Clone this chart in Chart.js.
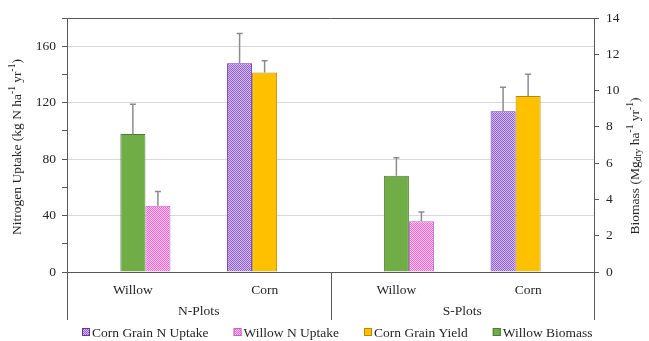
<!DOCTYPE html>
<html>
<head>
<meta charset="utf-8">
<script src="https://cdn.jsdelivr.net/npm/chart.js@4.4.1/dist/chart.umd.min.js"></script>
<style>
html, body { margin: 0; padding: 0; background: #ffffff; }
canvas { display: block; }
</style>
</head>
<body>
<canvas id="uptakeChart" width="649" height="341"></canvas>
<script>

// =========================================
// Data
// =========================================

const categories = ["Willow", "Corn", "Willow", "Corn"];
const plotGroups = ["N-Plots", "S-Plots"];

const cornNUptake = [null, 148, null, 114];
const cornNUptakeErr = [null, 21, null, 17];

const willowNUptake = [47, null, 36, null];
const willowNUptakeErr = [10, null, 6.6, null];

const cornGrainYield = [null, 11.0, null, 9.7];
const cornGrainYieldErr = [null, 0.65, null, 1.2];

const willowBiomass = [7.6, null, 5.3, null];
const willowBiomassErr = [1.65, null, 1.0, null];

const nTicks = [0, 40, 80, 120, 160];
const biomassTicks = [0, 2, 4, 6, 8, 10, 12, 14];


// =========================================
// Styles
// =========================================

const FONT = '"Liberation Serif", "Times New Roman", serif';
const SIZE = 13.5;
const AXIS = "#595959";
const TEXT = "#262626";

function checker(dark, light) {

    const c = document.createElement("canvas");
    c.width = 4;
    c.height = 4;

    const g = c.getContext("2d");
    g.fillStyle = light;
    g.fillRect(0, 0, 4, 4);
    g.fillStyle = dark;

    for (let i = 0; i < 4; i++) {
        for (let j = 0; j < 4; j++) {
            if ((i + j) % 2 === 0) g.fillRect(i, j, 1, 1);
        }
    }

    return g.createPattern(c, "repeat");

}

const purpleFill = checker("#9260cc", "#d3bcf0");
const pinkFill = checker("#ee6acd", "#ffc6ec");


// =========================================
// Rich text (super / subscripts)
// =========================================

function drawRich(ctx, parts, cx, cy, angle) {

    const big = SIZE + "px " + FONT;
    const small = "9.5px " + FONT;

    let width = 0;
    parts.forEach(p => {
        ctx.font = p[1] === 0 ? big : small;
        width += ctx.measureText(p[0]).width;
    });

    ctx.save();
    ctx.translate(cx, cy);
    ctx.rotate(angle);
    ctx.fillStyle = TEXT;
    ctx.textBaseline = "middle";
    ctx.textAlign = "left";

    let x = -width / 2;
    parts.forEach(p => {
        ctx.font = p[1] === 0 ? big : small;
        const dy = p[1] === 1 ? -5 : (p[1] === -1 ? 3 : 0);
        ctx.fillText(p[0], x, dy);
        x += ctx.measureText(p[0]).width;
    });

    ctx.restore();

}


// =========================================
// Extras: error bars, frame, labels, legend
// =========================================

const extrasPlugin = {

    id: "extras",

    afterDatasetsDraw(chart) {

        const ctx = chart.ctx;

        ctx.save();
        ctx.strokeStyle = "#8c8c8c";
        ctx.lineWidth = 1.5;

        chart.data.datasets.forEach((ds, d) => {

            const meta = chart.getDatasetMeta(d);
            const scale = chart.scales[ds.yAxisID];

            ds.data.forEach((v, i) => {

                if (v === null) return;

                const bar = meta.data[i];
                const top = scale.getPixelForValue(v + ds.errors[i]);

                ctx.beginPath();
                ctx.moveTo(bar.x, bar.y);
                ctx.lineTo(bar.x, top);
                ctx.moveTo(bar.x - 3, top);
                ctx.lineTo(bar.x + 3, top);
                ctx.stroke();

            });

        });

        ctx.restore();

    },

    afterDraw(chart) {

        const ctx = chart.ctx;
        const area = chart.chartArea;
        const xs = chart.scales.x;
        const lowY = 320;

        ctx.save();
        ctx.strokeStyle = AXIS;
        ctx.lineWidth = 1;

        // frame lines
        ctx.beginPath();
        ctx.moveTo(area.left, area.top + 0.5);
        ctx.lineTo(area.right, area.top + 0.5);
        ctx.moveTo(Math.round(area.left) + 0.5, area.bottom);
        ctx.lineTo(Math.round(area.left) + 0.5, lowY);
        ctx.moveTo(Math.round(area.right) + 0.5, area.bottom);
        ctx.lineTo(Math.round(area.right) + 0.5, lowY);

        const mid = Math.round((xs.getPixelForValue(1) + xs.getPixelForValue(2)) / 2) + 0.5;
        ctx.moveTo(mid, area.bottom);
        ctx.lineTo(mid, lowY);
        ctx.stroke();

        // group labels
        ctx.fillStyle = TEXT;
        ctx.font = SIZE + "px " + FONT;
        ctx.textAlign = "center";
        ctx.textBaseline = "middle";

        plotGroups.forEach((g, k) => {
            const cx = (xs.getPixelForValue(k * 2) + xs.getPixelForValue(k * 2 + 1)) / 2;
            ctx.fillText(g, cx, 311);
        });

        // axis titles
        drawRich(ctx, [
            ["Nitrogen Uptake (kg N ha", 0], ["-1", 1], [" yr", 0], ["-1", 1], [")", 0]
        ], 17, (area.top + area.bottom) / 2 + 2, -Math.PI / 2);

        drawRich(ctx, [
            ["Biomass (Mg", 0], ["dry", -1], [" ha", 0], ["-1", 1], [" yr", 0], ["-1", 1], [")", 0]
        ], 635, 166, -Math.PI / 2);

        // legend
        let x = 82;
        const ly = 332;

        ctx.textAlign = "left";
        ctx.font = SIZE + "px " + FONT;

        chart.data.datasets.forEach(ds => {

            ctx.fillStyle = ds.backgroundColor;
            ctx.fillRect(x, ly - 4, 8, 8);
            ctx.strokeStyle = ds.borderColor;
            ctx.strokeRect(x + 0.5, ly - 3.5, 7, 7);

            ctx.fillStyle = TEXT;
            ctx.fillText(ds.label, x + 10, ly + 1);

            x += 10 + ctx.measureText(ds.label).width + 25;

        });

        ctx.restore();

    }

};


// =========================================
// Chart
// =========================================

const ctx = document.getElementById("uptakeChart");

new Chart(ctx, {

    type: "bar",

    data: {

        labels: categories,

        datasets: [

            {
                label: "Corn Grain N Uptake",
                data: cornNUptake,
                errors: cornNUptakeErr,
                backgroundColor: purpleFill,
                borderColor: "#7030a0",
                borderWidth: 1,
                yAxisID: "y",
                stack: "s1",
                order: 1
            },

            {
                label: "Willow N Uptake",
                data: willowNUptake,
                errors: willowNUptakeErr,
                backgroundColor: pinkFill,
                borderColor: "#c45fd6",
                borderWidth: 1,
                yAxisID: "y",
                stack: "s3",
                order: 3
            },

            {
                label: "Corn Grain Yield",
                data: cornGrainYield,
                errors: cornGrainYieldErr,
                backgroundColor: "#ffc000",
                borderColor: "#b58a00",
                borderWidth: 1,
                yAxisID: "y1",
                stack: "s2",
                order: 2
            },

            {
                label: "Willow Biomass",
                data: willowBiomass,
                errors: willowBiomassErr,
                backgroundColor: "#70ad47",
                borderColor: "#4f7d31",
                borderWidth: 1,
                yAxisID: "y1",
                stack: "s2",
                order: 2
            }

        ]

    },

    options: {

        responsive: false,
        devicePixelRatio: 1,
        animation: false,

        categoryPercentage: 0.57,
        barPercentage: 1.0,

        layout: {
            padding: { top: 18, bottom: 21, left: 0, right: 0 }
        },

        plugins: {
            legend: { display: false },
            tooltip: { enabled: false }
        },

        scales: {

            x: {
                stacked: true,
                grid: { display: false, drawTicks: false },
                border: { color: AXIS },
                ticks: {
                    padding: 10,
                    color: TEXT,
                    font: { family: FONT, size: SIZE }
                },
                afterFit: (scale) => { scale.height = 48; }
            },

            y: {
                position: "left",
                stacked: false,
                min: 0,
                max: 180,
                ticks: {
                    stepSize: 10,
                    padding: 6,
                    color: TEXT,
                    font: { family: FONT, size: SIZE },
                    callback: (v) => nTicks.includes(v) ? v : ""
                },
                grid: {
                    color: (c) => (nTicks.includes(c.tick.value) && c.tick.value > 0) ? "#d9d9d9" : "rgba(0,0,0,0)",
                    tickColor: AXIS,
                    tickLength: 5
                },
                border: { color: AXIS },
                afterFit: (scale) => { scale.width = 67; }
            },

            y1: {
                position: "right",
                stacked: false,
                min: 0,
                max: 14,
                afterBuildTicks: (scale) => {
                    scale.ticks = biomassTicks.map(v => ({ value: v }));
                },
                ticks: {
                    padding: 7,
                    color: TEXT,
                    font: { family: FONT, size: SIZE }
                },
                grid: {
                    drawOnChartArea: false,
                    tickColor: AXIS,
                    tickLength: 5
                },
                border: { color: AXIS },
                afterFit: (scale) => { scale.width = 55; }
            }

        }

    },

    plugins: [extrasPlugin]

});

</script>
</body>
</html>
